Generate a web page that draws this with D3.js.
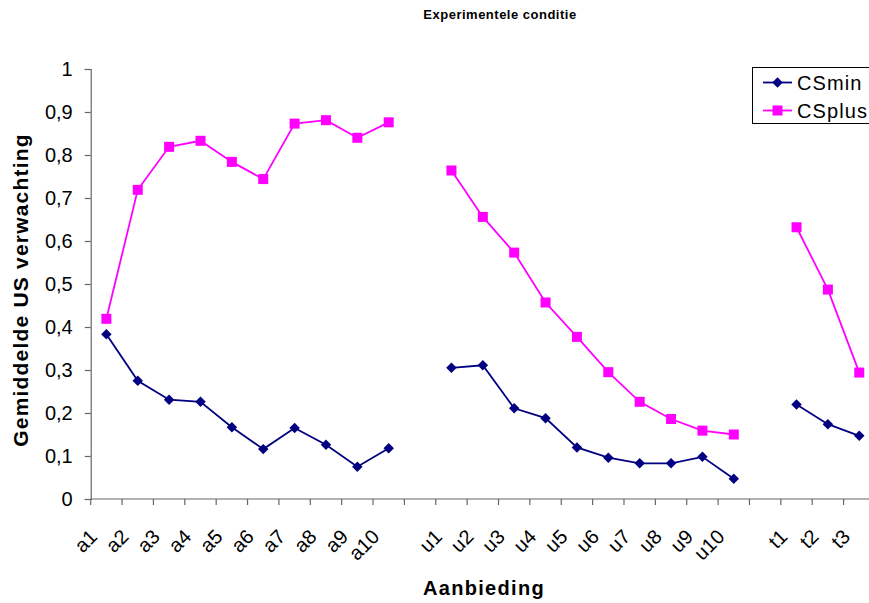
<!DOCTYPE html>
<html>
<head>
<meta charset="utf-8">
<script src="https://cdn.jsdelivr.net/npm/d3@7"></script>
<style>
  body { margin: 0; background: #fff; }
  svg { font-family: Arial, "Liberation Sans", sans-serif; display: block; }
</style>
</head>
<body>
<div id="chart"></div>
<script>
// categories, blanks split the three phases
var categories = ["a1","a2","a3","a4","a5","a6","a7","a8","a9","a10","",
    "u1","u2","u3","u4","u5","u6","u7","u8","u9","u10","",
    "t1","t2","t3"];

var csmin = [0.383,0.275,0.231,0.226,0.167,0.116,0.165,0.126,0.075,0.118,null,
    0.305,0.311,0.211,0.188,0.120,0.096,0.083,0.083,0.098,0.047,null,
    0.220,0.174,0.147];

var csplus = [0.419,0.719,0.819,0.833,0.784,0.744,0.873,0.881,0.840,0.876,null,
    0.764,0.656,0.573,0.457,0.377,0.295,0.226,0.186,0.159,0.150,null,
    0.632,0.487,0.294];

var yTicks = [0,0.1,0.2,0.3,0.4,0.5,0.6,0.7,0.8,0.9,1];

var width = 869, height = 603;
var margin = {left: 90.7, top: 69, bottom: 104};

var svg = d3.select("#chart").append("svg")
    .attr("width", width)
    .attr("height", height);

// plot runs a bit past the right edge, like the original
var x = d3.scaleBand()
    .domain(d3.range(categories.length))
    .range([margin.left, margin.left + categories.length * 31.37]);

var y = d3.scaleLinear()
    .domain([0, 1])
    .range([height - margin.bottom, margin.top]);

var axisColor = "#666";

// y axis
var yAxis = svg.append("g")
    .attr("transform", "translate(" + margin.left + ",0)")
    .call(d3.axisLeft(y).tickValues(yTicks).tickSize(6).tickPadding(12)
        .tickFormat(function(d){ return String(+d.toFixed(1)).replace(".", ","); }));
yAxis.select(".domain").attr("stroke", axisColor).attr("stroke-width", 1.2);
yAxis.selectAll(".tick line").attr("stroke", axisColor).attr("stroke-width", 1.2);
yAxis.selectAll("text").attr("font-size", 20).attr("fill", "#000")
    .attr("font-family", "Arial, 'Liberation Sans', sans-serif");

// x axis line and boundary ticks
var x0 = y(0);
svg.append("line")
    .attr("x1", margin.left).attr("x2", x.range()[1])
    .attr("y1", x0).attr("y2", x0)
    .attr("stroke", axisColor).attr("stroke-width", 1.2);

svg.selectAll(".xtick")
    .data(d3.range(categories.length + 1))
    .enter().append("line")
    .attr("class", "xtick")
    .attr("x1", function(i){ return margin.left + i * x.step(); })
    .attr("x2", function(i){ return margin.left + i * x.step(); })
    .attr("y1", x0).attr("y2", x0 + 6)
    .attr("stroke", axisColor).attr("stroke-width", 1.2);

// rotated category labels
svg.selectAll(".xlabel")
    .data(categories)
    .enter().append("text")
    .attr("class", "xlabel")
    .attr("font-size", 20)
    .attr("text-anchor", "end")
    .attr("transform", function(d, i){
        var px = x(i) + x.bandwidth() / 2 - 8;
        return "translate(" + px + "," + (x0 + 39) + ") rotate(-45)";
    })
    .text(function(d){ return d; });

function cx(i){ return x(i) + x.bandwidth() / 2; }

var line = d3.line()
    .defined(function(d){ return d != null; })
    .x(function(d, i){ return cx(i); })
    .y(function(d){ return y(d); });

// keep the category index with each value, drop blanks for markers
function points(values){
    return values.map(function(v, i){ return {i: i, v: v}; })
        .filter(function(p){ return p.v != null; });
}

// CSmin series
svg.append("path")
    .datum(csmin)
    .attr("fill", "none")
    .attr("stroke", "#000080")
    .attr("stroke-width", 1.8)
    .attr("d", line);

var diamond = d3.symbol().type(d3.symbolDiamond2).size(70);

svg.selectAll(".csmin")
    .data(points(csmin))
    .enter().append("path")
    .attr("class", "csmin")
    .attr("d", diamond)
    .attr("fill", "#000080")
    .attr("transform", function(p){ return "translate(" + cx(p.i) + "," + y(p.v) + ")"; });

// CSplus series
svg.append("path")
    .datum(csplus)
    .attr("fill", "none")
    .attr("stroke", "#FF00FF")
    .attr("stroke-width", 1.8)
    .attr("d", line);

svg.selectAll(".csplus")
    .data(points(csplus))
    .enter().append("rect")
    .attr("class", "csplus")
    .attr("x", function(p){ return cx(p.i) - 5; })
    .attr("y", function(p){ return y(p.v) - 5; })
    .attr("width", 10).attr("height", 10)
    .attr("fill", "#FF00FF");

// title
svg.append("text")
    .attr("x", 500).attr("y", 18.5)
    .attr("text-anchor", "middle")
    .attr("font-size", 13).attr("font-weight", "bold")
    .attr("letter-spacing", 0.5)
    .text("Experimentele conditie");

// axis titles
svg.append("text")
    .attr("transform", "translate(27.5,290) rotate(-90)")
    .attr("text-anchor", "middle")
    .attr("font-size", 21).attr("font-weight", "bold")
    .attr("letter-spacing", 1.2)
    .text("Gemiddelde US verwachting");

svg.append("text")
    .attr("x", 484).attr("y", 595)
    .attr("text-anchor", "middle")
    .attr("font-size", 20).attr("font-weight", "bold")
    .attr("letter-spacing", 1.3)
    .text("Aanbieding");

// legend (box runs off the right edge, as in the original)
var legend = svg.append("g").attr("transform", "translate(752,67)");
legend.append("rect")
    .attr("x", 0.5).attr("y", 0.5)
    .attr("width", 140).attr("height", 56)
    .attr("fill", "#fff").attr("stroke", "#000").attr("stroke-width", 1);

var entries = [
    {name: "CSmin", color: "#000080", shape: "diamond"},
    {name: "CSplus", color: "#FF00FF", shape: "square"}
];

entries.forEach(function(e, k){
    var ly = 15.5 + k * 28;
    legend.append("line")
        .attr("x1", 11).attr("x2", 40)
        .attr("y1", ly).attr("y2", ly)
        .attr("stroke", e.color).attr("stroke-width", 1.8);
    if (e.shape == "diamond") {
        legend.append("path")
            .attr("d", diamond)
            .attr("fill", e.color)
            .attr("transform", "translate(25.5," + ly + ")");
    } else {
        legend.append("rect")
            .attr("x", 20.5).attr("y", ly - 5)
            .attr("width", 10).attr("height", 10)
            .attr("fill", e.color);
    }
    legend.append("text")
        .attr("x", 45).attr("y", ly + 7)
        .attr("font-size", 20)
        .attr("letter-spacing", 1.1)
        .text(e.name);
});
</script>
</body>
</html>
